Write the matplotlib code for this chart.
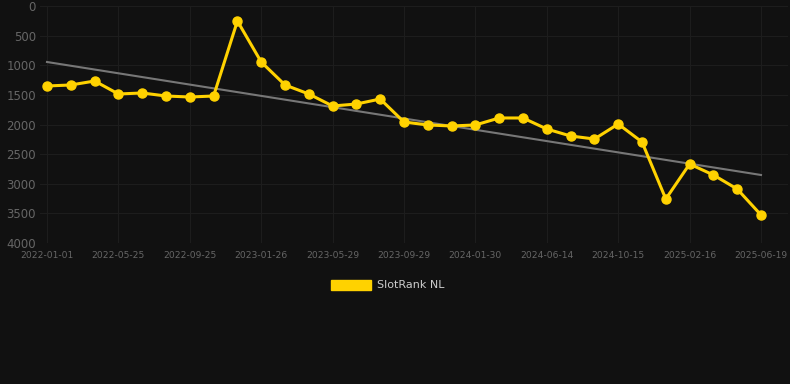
import numpy as np
import matplotlib.pyplot as plt
from matplotlib.patches import Patch

# rank values (lower = better, axis inverted)
ranks = [1350, 1333, 1266, 1485, 1468, 1519, 1536, 1519, 253, 945,
         1333, 1485, 1688, 1654, 1570, 1958, 2008, 2025, 2008, 1890,
         1890, 2076, 2194, 2245, 1992, 2295, 3257, 2667, 2852, 3089, 3527]
tick_labels = ['2022-01-01', '2022-05-25', '2022-09-25', '2023-01-26', '2023-05-29',
               '2023-09-29', '2024-01-30', '2024-06-14', '2024-10-15', '2025-02-16',
               '2025-06-19']
trend_start = 945
trend_end = 2852
series_name = 'SlotRank NL'

bg = '#111111'
yellow = '#ffd200'

x = np.arange(len(ranks))
tick_pos = x[::3]

fig = plt.figure(figsize=(7.9, 3.84), dpi=100, facecolor=bg)
ax = fig.add_axes([40/790, 1 - 243/384, 748/790, 237/384])
ax.set_facecolor(bg)

# trend line
ax.plot([x[0], x[-1]], [trend_start, trend_end], color='#777777', lw=1.5, zorder=2)
ax.plot(x, ranks, color=yellow, lw=2.2, marker='o', markersize=6.5, zorder=3)

ax.set_xlim(-7/23.8, 30 + 27/23.8)
ax.set_ylim(4000, 0)
ax.set_yticks(np.arange(0, 4001, 500))
ax.set_xticks(tick_pos)
ax.set_xticklabels(tick_labels)

ax.grid(True, color='#1d1d1d', lw=0.8)
ax.set_axisbelow(True)
for s in ax.spines.values():
    s.set_visible(False)
ax.tick_params(axis='y', colors='#666666', labelsize=8.5, length=0, pad=3)
ax.tick_params(axis='x', colors='#666666', labelsize=6.6, length=0, pad=6)

fig.legend(handles=[Patch(facecolor=yellow, edgecolor=yellow, label=series_name)],
           loc='center', bbox_to_anchor=(388/790, 1 - 285/384), frameon=False,
           fontsize=8, labelcolor='#cccccc', handlelength=3.6, handleheight=1.0,
           handletextpad=0.5)

fig.savefig('out.png', dpi=100, facecolor=bg)
